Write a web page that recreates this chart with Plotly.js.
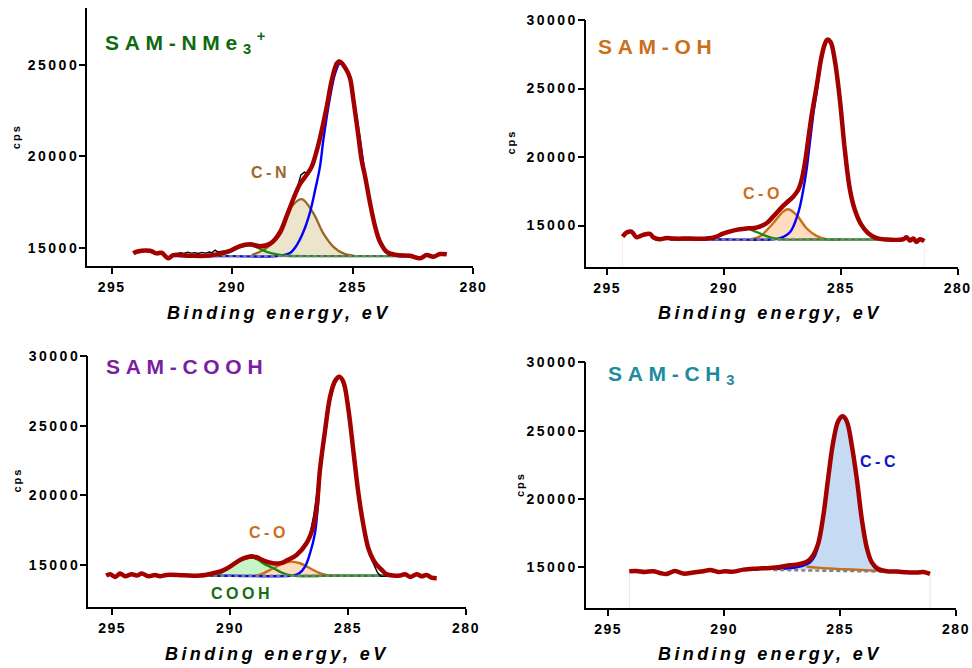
<!DOCTYPE html>
<html>
<head>
<meta charset="utf-8">
<script src="https://cdn.plot.ly/plotly-3.0.1.min.js"></script>
<style>
  html, body { margin: 0; padding: 0; background: #fff; }
  #chart { width: 972px; height: 668px; }
  .yaxislayer-above text { letter-spacing: 2.5px; }
  .xaxislayer-above text { letter-spacing: 1.5px; }
  text[data-unformatted^="SAM"] { letter-spacing: 5.7px; }
  text[data-unformatted^="C-"], text[data-unformatted^="COOH"] { letter-spacing: 3.5px; }
  text[data-unformatted^="Binding"] { letter-spacing: 3.4px; }
  text[data-unformatted^="cps"] { letter-spacing: 2px; }
</style>
</head>
<body>
<div id="chart"></div>
<script>
// ---------- tick labels ----------
const xTickVals = [295, 290, 285, 280];
const yTickVals1 = [15000, 20000, 25000];
const yTickVals = [15000, 20000, 25000, 30000];
const sampleNames = ["SAM-NMe<sub>3</sub><sup>+</sup>", "SAM-OH", "SAM-COOH", "SAM-CH<sub>3</sub>"];
const peakLabels = ["C-N", "C-O", "C-O", "COOH", "C-C"];
const xTitle = "Binding energy, eV";
const yTitle = "cps";

// ---------- Panel 1: SAM-NMe3+ ----------
const p1EnvE = [294.10,293.96,293.41,293.13,292.93,292.65,292.44,291.75,290.92,290.09,289.68,289.26,288.85,288.43,288.02,287.74,287.46,287.19,286.91,286.70,286.52,286.36,286.08,285.87,285.66,285.53,285.25,285.11,284.97,284.77,284.63,284.49,284.28,284.07,283.87,283.59,283.17,282.62,282.21,281.93,281.66,281.38,281.10];
const p1EnvV = [14728,14815,14870,14728,14761,14457,14636,14598,14609,14870,15125,15217,15120,15250,15850,16750,17700,18500,19000,19450,20180,20995,22696,24147,25055,25153,24690,24256,23060,21160,19800,18930,17446,16174,15359,14815,14636,14598,14457,14636,14543,14690,14674];
const p1RawE = [292.30,292.15,292.00,291.85,291.70,291.55,291.40,291.25,291.10,290.95,290.85,290.70,290.60,290.40,290.10,289.70,289.30,288.90,288.60,288.40,288.10,287.80,287.50,287.30,287.15,287.00,286.88,286.70,286.50,286.30,286.05,285.87,285.72,285.60,285.48,285.30,285.10,284.90,284.70,284.50,284.30,284.10,283.90,283.75,283.60,283.45,283.30,283.10];
const p1RawV = [14700,14760,14720,14790,14740,14770,14720,14780,14740,14800,14760,14900,14800,14850,14900,15130,15230,15140,15200,15300,15700,16550,17550,18300,19000,19150,19050,19500,20300,21300,23000,24300,25100,25250,25200,24850,24150,22600,20900,19100,17500,16200,15450,14950,14720,14620,14640,14600];
const p1BlueE = [292.40,290.00,288.15,287.60,287.32,287.05,286.77,286.56,286.36,286.22,285.94,285.73,285.53,285.32,285.11,284.90,284.69,284.49,284.28,284.07,283.87,283.59,283.17,282.62];
const p1BlueV = [14580,14580,14580,14745,15180,15886,16973,18169,19435,20886,23240,24511,25071,24800,24150,22600,20800,18950,17400,16130,15320,14790,14600,14580];
const p1CNE = [289.19,288.85,288.43,288.02,287.60,287.12,286.63,286.22,285.80,285.39,284.97];
const p1CNV = [14636,14815,15180,15995,17174,17680,16902,15815,15087,14728,14598];
const p1GreenE = [290.64,290.09,289.68,289.26,288.98,288.57,288.15,287.74,286.00,284.00,283.00];
const p1GreenV = [14590,14800,15060,15170,15060,14815,14674,14598,14580,14580,14580];
const p1BaseE = [292.17,283.17];
const p1BaseV = [14580,14580];

// ---------- Panel 2: SAM-OH ----------
const p2EnvE = [294.34,294.17,293.96,293.74,293.46,293.17,293.03,292.75,292.46,292.18,291.46,290.75,290.32,290.04,289.61,289.32,288.97,288.61,288.18,287.90,287.47,287.04,286.83,286.68,286.54,286.40,286.26,286.04,285.83,285.68,285.58,285.44,285.26,285.04,284.83,284.61,284.40,284.12,283.83,283.47,283.05,282.33,282.19,282.05,281.90,281.76,281.62,281.43];
const p2EnvV = [14199,14490,14563,14150,14320,14393,14150,14005,14102,14053,14053,14053,14199,14417,14636,14733,14800,14850,15170,15655,16432,17112,17597,18325,19539,21238,22937,25121,27306,28277,28568,28398,27063,24150,20510,17597,16141,15049,14442,14078,13980,14005,14150,13908,14053,13811,14005,13859];
const p2RawE = [292.30,292.10,291.90,291.70,291.50,291.30,291.10,290.90,290.70,290.50,290.30,290.10,289.90,289.70,289.50,289.30,289.10,288.90,288.70,288.50,288.30,288.10,287.90,287.70,287.50,287.30,287.15,287.00,286.85,286.70,286.55,286.40,286.25,286.05,285.85,285.70,285.58,285.45,285.30,285.10,284.90,284.70,284.55,284.40,284.20,284.00,283.80,283.60,283.40,283.20,283.00];
const p2RawV = [14060,14080,14040,14070,14050,14080,14040,14070,14100,14150,14230,14470,14540,14650,14700,14760,14820,14760,14830,14860,15000,15250,15650,16000,16450,16850,17050,17250,17650,18200,19400,21200,23000,25100,27200,28150,28600,28380,27300,24900,21400,18400,17100,16250,15300,14650,14350,14150,14080,14000,13990];
const p2BlueE = [292.30,290.00,288.00,287.61,287.18,286.83,286.61,286.47,286.33,286.18,286.04,285.83,285.68,285.58,285.44,285.26,285.04,284.83,284.61,284.40,284.12,283.83,283.47,283.05];
const p2BlueV = [13980,13980,13990,14078,14515,15898,17597,19053,20995,23100,24700,27100,28150,28500,28330,27000,24100,20460,17560,16110,15020,14420,14060,13980];
const p2COE = [288.89,288.47,287.90,287.47,287.25,286.90,286.47,286.04,285.61,285.04];
const p2COV = [13990,14199,15170,16019,16189,15777,14806,14248,14005,13980];
const p2GreenE = [290.75,290.32,290.04,289.61,289.18,288.97,288.75,288.32,287.90,287.47,286.50,285.00,283.50,283.05];
const p2GreenV = [14000,14199,14417,14636,14757,14782,14636,14320,14078,13990,13980,13980,13980,13980];
const p2BaseE = [292.20,283.00];
const p2BaseV = [13980,13980];

// ---------- Panel 3: SAM-COOH ----------
const p3EnvE = [295.25,295.08,294.87,294.66,294.45,294.17,293.95,293.74,293.46,293.18,292.97,292.68,291.98,291.27,290.71,290.35,290.00,289.58,289.29,289.08,288.87,288.66,288.45,288.09,287.81,287.60,287.18,286.76,286.47,286.33,286.19,285.97,285.76,285.55,285.37,285.20,284.99,284.77,284.56,284.35,284.14,283.93,283.79,283.57,283.36,283.08,282.80,282.58,282.37,282.09,281.88,281.67,281.46,281.24];
const p3EnvV = [14234,14330,14139,14378,14187,14330,14234,14378,14187,14282,14187,14282,14258,14234,14402,14569,14880,15359,15550,15598,15550,15383,15239,15096,15144,15311,15718,16555,17751,19067,21818,24689,27081,28205,28516,28158,26244,23134,20143,17871,16196,15359,15024,14641,14330,14234,14234,14330,14139,14330,14187,14282,14091,14043];
const p3RawE = [292.30,292.10,291.90,291.70,291.50,291.35,291.20,291.00,290.80,290.60,290.40,290.20,290.00,289.80,289.60,289.40,289.20,289.05,288.90,288.70,288.50,288.30,288.10,287.90,287.70,287.50,287.35,287.20,287.05,286.85,286.65,286.45,286.25,286.05,285.85,285.65,285.45,285.30,285.10,284.90,284.70,284.50,284.30,284.10,283.90,283.75,283.60,283.45,283.30,283.10];
const p3RawV = [14250,14270,14230,14260,14240,14150,14260,14240,14290,14370,14500,14700,14900,15120,15400,15560,15680,15720,15560,15380,15220,15120,15060,15120,15200,15380,15620,15680,15850,16200,16900,18600,21000,23800,26300,27800,28450,28400,27300,25000,22100,19000,17100,15800,15000,14450,14180,14200,14250,14240];
const p3BlueE = [292.00,290.00,287.46,287.10,286.82,286.61,286.40,286.26,286.19,285.97,285.76,285.55,285.37,285.20,284.99,284.77,284.56,284.35,284.14,283.93,283.79,283.57,283.36,283.08];
const p3BlueV = [14220,14220,14220,14354,14880,15837,17273,19665,21500,24450,26900,28100,28450,28100,26200,23100,20100,17830,16150,15300,14980,14600,14300,14220];
const p3COE = [289.00,288.73,288.16,287.74,287.39,287.03,286.61,286.19,285.76,285.30];
const p3COV = [14220,14300,14761,15120,15239,15120,14761,14402,14230,14220];
const p3GreenE = [290.85,290.56,290.21,289.86,289.51,289.12,288.87,288.59,288.16,287.74,287.32,286.00,284.50,283.30];
const p3GreenV = [14220,14330,14600,14990,15360,15520,15440,15120,14760,14400,14230,14220,14220,14220];
const p3BaseE = [291.30,283.30];
const p3BaseV = [14220,14220];

// ---------- Panel 4: SAM-CH3 ----------
const p4EnvE = [294.09,293.78,293.42,293.06,292.77,292.48,292.12,291.76,291.33,290.90,290.61,290.25,289.96,289.60,289.17,288.60,288.02,287.59,287.16,286.73,286.37,286.15,285.94,285.72,285.50,285.29,285.07,284.88,284.71,284.50,284.28,284.06,283.85,283.63,283.35,282.99,282.55,282.12,281.69,281.40,281.12];
const p4EnvV = [14709,14733,14660,14709,14587,14515,14733,14539,14612,14709,14806,14660,14709,14684,14830,14903,14951,15024,15146,15243,15480,15900,16750,18800,21700,24223,25728,26044,25680,23981,21500,18500,16456,15364,14879,14709,14684,14636,14612,14660,14515];
const p4RawE = [288.60,288.30,288.00,287.70,287.40,287.10,286.80,286.60,286.40,286.25,286.10,285.95,285.80,285.65,285.50,285.30,285.10,284.90,284.70,284.50,284.30,284.10,283.90,283.70,283.55,283.40,283.20,283.00,282.80];
const p4RawV = [14890,14930,14950,15000,15080,15150,15220,15280,15400,15560,15900,16600,17700,19500,21500,24100,25700,26100,25700,24000,21400,18700,16700,15500,15000,14800,14720,14700,14700];
const p4CCE = [287.88,287.16,286.58,286.29,286.08,285.94,285.72,285.50,285.29,285.07,284.88,284.71,284.50,284.28,284.06,283.85,283.63,283.45,283.30,283.13];
const p4CCV = [14879,14927,15121,15364,15850,16600,18650,21600,24150,25650,25980,25620,23920,21450,18450,16400,15300,14900,14760,14720];
const p4OrE = [286.45,286.20,285.72,285.00,284.28,283.27,283.10];
const p4OrV = [15080,15000,14940,14870,14820,14740,14720];
const p4BaseE = [287.88,283.13];
const p4BaseV = [14806,14685];

// ---------- styles ----------
const RED = '#a30000', BLUE = '#0000ff', GREEN = '#168c16', GRAY = '#7f7f7f';
const BROWN = '#9a6826', ORANGE = '#cc6f14';
const FONT = 'Liberation Sans, Arial, Helvetica, sans-serif';
const CW = 2.4; // component line width

function axes(n) { return n === 1 ? ['x', 'y'] : ['x' + n, 'y' + n]; }
function line(x, y, n, color, width, extra) {
  const a = axes(n);
  return Object.assign({
    type: 'scatter', mode: 'lines', x: x, y: y, xaxis: a[0], yaxis: a[1],
    line: { color: color, width: width, shape: 'spline', smoothing: 1 },
    hoverinfo: 'skip', showlegend: false
  }, extra || {});
}
function filled(x, y, n, color, width, fill) {
  return line(x, y, n, color, width, { fill: 'toself', fillcolor: fill });
}
function dashed(x, y, n) {
  const t = line(x, y, n, GRAY, 2.4);
  t.line.dash = '4px,3px';
  t.line.shape = 'linear';
  return t;
}
function raw(x, y, n) {
  const t = line(x, y, n, '#000000', 1.4);
  t.line.shape = 'linear';
  return t;
}
function edge(envE, envV, n, ymin, color) {
  const a = envE[0], b = envE[envE.length - 1];
  return [
    line([a, a], [envV[0], ymin], n, color, 1, { line: { color: color, width: 1 } }),
    line([b, b], [envV[envV.length - 1], ymin], n, color, 1, { line: { color: color, width: 1 } })
  ];
}
// empty carrier trace for the tick-mark overlay axes
function carrier(xa, ya) {
  return { type: 'scatter', mode: 'lines', x: [], y: [], xaxis: xa, yaxis: ya, hoverinfo: 'skip', showlegend: false };
}

const Y1MIN = 14040, Y1MAX = 28080, YMIN = 12000, YMAX = 30000;

const data = [
  // panel 1
  filled(p1CNE, p1CNV, 1, BROWN, CW, '#ece5cb'),
  line(p1BlueE, p1BlueV, 1, BLUE, CW),
  line(p1GreenE, p1GreenV, 1, GREEN, CW),
  dashed(p1BaseE, p1BaseV, 1),
  raw(p1RawE, p1RawV, 1),
  line(p1EnvE, p1EnvV, 1, RED, 4.5),
  // panel 2
  ...edge(p2EnvE, p2EnvV, 2, YMIN, '#fbe9de'),
  filled(p2COE, p2COV, 2, ORANGE, CW, '#fddcbf'),
  line(p2BlueE, p2BlueV, 2, BLUE, CW),
  line(p2GreenE, p2GreenV, 2, GREEN, CW),
  dashed(p2BaseE, p2BaseV, 2),
  raw(p2RawE, p2RawV, 2),
  line(p2EnvE, p2EnvV, 2, RED, 4.5),
  // panel 3
  filled(p3GreenE, p3GreenV, 3, GREEN, CW, '#c8f5c8'),
  filled(p3COE, p3COV, 3, ORANGE, CW, '#fddcbf'),
  line(p3BlueE, p3BlueV, 3, BLUE, CW),
  line(p3GreenE, p3GreenV, 3, GREEN, CW),
  dashed(p3BaseE, p3BaseV, 3),
  raw(p3RawE, p3RawV, 3),
  line(p3EnvE, p3EnvV, 3, RED, 4.5),
  // panel 4
  ...edge(p4EnvE, p4EnvV, 4, YMIN, '#e6e6e6'),
  filled(p4CCE, p4CCV, 4, BLUE, CW, '#c5daf3'),
  line(p4OrE, p4OrV, 4, ORANGE, CW),
  dashed(p4BaseE, p4BaseV, 4),
  raw(p4RawE, p4RawV, 4),
  line(p4EnvE, p4EnvV, 4, RED, 4.5),
  // tick-mark overlays
  carrier('x', 'y5'), carrier('x2', 'y6'), carrier('x3', 'y7'), carrier('x4', 'y8')
];

function xAxis(dom, range, anchor) {
  return {
    domain: dom, range: range, anchor: anchor,
    tickmode: 'array', tickvals: xTickVals, ticktext: xTickVals.map(String),
    showline: true, linecolor: '#000', linewidth: 2,
    ticks: 'outside', ticklen: 6, tickwidth: 2, tickcolor: '#000',
    ticklabelstandoff: 1,
    showgrid: false, zeroline: false,
    tickfont: { family: FONT, size: 14, color: '#000', weight: 'bold' }
  };
}
// label axis: line + labels; its own (invisible) short ticks set the label gap
function yAxis(dom, range, anchor, vals) {
  return {
    domain: dom, range: range, anchor: anchor,
    tickmode: 'array', tickvals: vals, ticktext: vals.map(String),
    showline: true, linecolor: '#000', linewidth: 2,
    ticks: 'outside', ticklen: 3, tickwidth: 1, tickcolor: 'rgba(0,0,0,0)',
    showgrid: false, zeroline: false,
    tickfont: { family: FONT, size: 14, color: '#000', weight: 'bold' }
  };
}
// overlay axis: visible tick marks only
function yTickAxis(over, range, anchor, vals) {
  return {
    overlaying: over, range: range, anchor: anchor, side: 'left',
    tickmode: 'array', tickvals: vals,
    showticklabels: false, showline: false,
    ticks: 'outside', ticklen: 7, tickwidth: 2, tickcolor: '#000',
    showgrid: false, zeroline: false
  };
}

const W = 972, H = 668;
const px = v => v / W, py = v => 1 - v / H;

function ann(text, x, y, size, color, opts) {
  return Object.assign({
    text: text, x: px(x), y: py(y), xref: 'paper', yref: 'paper',
    showarrow: false, xanchor: 'center', yanchor: 'middle',
    font: { family: FONT, size: size, color: color, weight: 'bold' }
  }, opts || {});
}
const italicFont = { family: FONT, size: 18, color: '#000', weight: 'bold', style: 'italic' };

const annotations = [
  ann(sampleNames[0], 103, 42, 21, '#0f6a0f', { xanchor: 'left' }),
  ann(sampleNames[1], 596, 46, 21, '#cc6f1a', { xanchor: 'left' }),
  ann(sampleNames[2], 104, 366, 21, '#7b1ea3', { xanchor: 'left' }),
  ann(sampleNames[3], 606, 375, 21, '#1c8ba0', { xanchor: 'left' }),
  ann(peakLabels[0], 270, 172.5, 16, '#9a6a2a'),
  ann(peakLabels[1], 763, 193, 16, '#cc6f1a'),
  ann(peakLabels[2], 268.5, 532, 16, '#cc6f1a'),
  ann(peakLabels[3], 241.5, 593, 16, '#146e14'),
  ann(peakLabels[4], 879, 461, 16, '#1414c8'),
  ann(yTitle, 15.5, 136.7, 11, '#000', { textangle: -90 }),
  ann(yTitle, 510.8, 141.7, 11, '#000', { textangle: -90 }),
  ann(yTitle, 16.5, 480, 11, '#000', { textangle: -90 }),
  ann(yTitle, 520, 485, 11, '#000', { textangle: -90 }),
  ann(xTitle, 279, 313, 18, '#000', { font: italicFont }),
  ann(xTitle, 770, 312.5, 18, '#000', { font: italicFont }),
  ann(xTitle, 277, 654, 18, '#000', { font: italicFont }),
  ann(xTitle, 770, 654, 18, '#000', { font: italicFont })
];

const layout = {
  width: W, height: H,
  margin: { l: 0, r: 0, t: 0, b: 0 },
  paper_bgcolor: '#ffffff', plot_bgcolor: 'rgba(0,0,0,0)',
  showlegend: false,
  xaxis: xAxis([px(87), px(473.3)], [296.02, 280], 'y'),
  yaxis: yAxis([py(266), py(8)], [Y1MIN, Y1MAX], 'x', yTickVals1),
  xaxis2: xAxis([px(585.7), px(957.7)], [295.92, 280], 'y2'),
  yaxis2: yAxis([py(266.7), py(20)], [YMIN, YMAX], 'x2', yTickVals),
  xaxis3: xAxis([px(88), px(466)], [296.02, 280], 'y3'),
  yaxis3: yAxis([py(606.7), py(356)], [YMIN, YMAX], 'x3', yTickVals),
  xaxis4: xAxis([px(585.7), px(956)], [295.97, 280], 'y4'),
  yaxis4: yAxis([py(608.3), py(362.3)], [YMIN, YMAX], 'x4', yTickVals),
  yaxis5: yTickAxis('y', [Y1MIN, Y1MAX], 'x', yTickVals1),
  yaxis6: yTickAxis('y2', [YMIN, YMAX], 'x2', yTickVals),
  yaxis7: yTickAxis('y3', [YMIN, YMAX], 'x3', yTickVals),
  yaxis8: yTickAxis('y4', [YMIN, YMAX], 'x4', yTickVals),
  annotations: annotations
};

Plotly.newPlot('chart', data, layout, { staticPlot: true, displayModeBar: false });
</script>
</body>
</html>
